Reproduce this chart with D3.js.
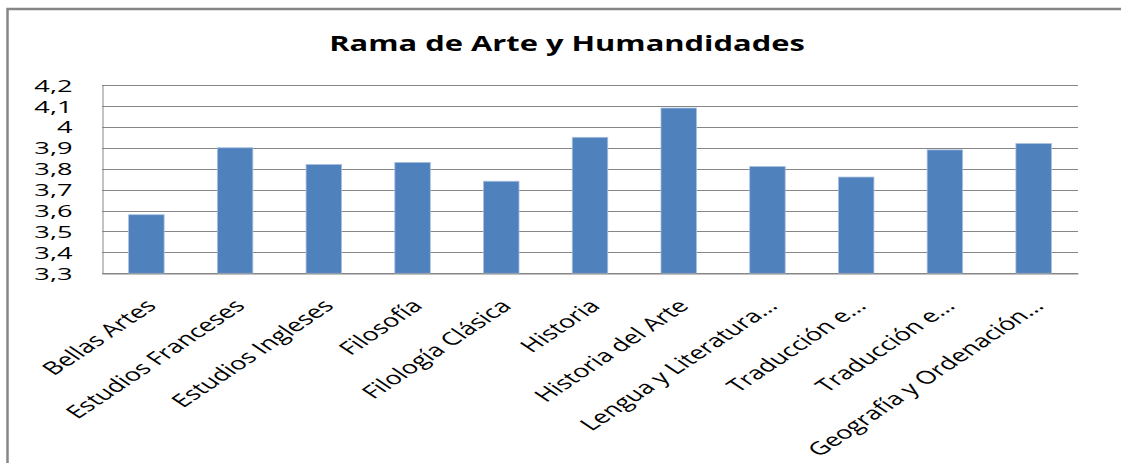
<!DOCTYPE html>
<html lang="es">
  <head>
    <meta charset="UTF-8">
    <title>Rama de Arte y Humandidades</title>
    <script src="https://d3js.org/d3.v7.min.js"></script>
    <style>
      body { margin: 0; background: #fff; }
      text { font-family: "Open Sans", sans-serif; fill: #000; }
    </style>
  </head>
  <body>
    <script>
      const categories = ["Bellas Artes", "Estudios Franceses", "Estudios Ingleses", "Filosofía",
                          "Filología Clásica", "Historia", "Historia del Arte", "Lengua y Literatura...",
                          "Traducción e...", "Traducción e...", "Geografía y Ordenación..."];
      const values = [3.58, 3.90, 3.82, 3.83, 3.74, 3.95, 4.09, 3.81, 3.76, 3.89, 3.92];
      const yTicks = [3.3, 3.4, 3.5, 3.6, 3.7, 3.8, 3.9, 4.0, 4.1, 4.2];

      const w = 1121;
      const h = 463;
      const plotL = 102, plotR = 1078, plotT = 85, plotB = 273.3;
      const sx = 1.5; // the picture is stretched horizontally

      const svg = d3.select("body")
        .append("svg")
        .attr("width", w)
        .attr("height", h);

      // outer frame (only top and left edges visible)
      svg.append("path")
        .attr("d", `M7.5,${h + 5} L7.5,9 L${w + 5},9`)
        .attr("fill", "none")
        .attr("stroke", "#868686")
        .attr("stroke-width", 2.5);

      svg.append("text")
        .attr("transform", `translate(567,51) scale(1.47,1)`)
        .attr("text-anchor", "middle")
        .style("font-size", "21px")
        .style("font-weight", "bold")
        .text("Rama de Arte y Humandidades");

      const x = d3.scaleBand()
        .domain(d3.range(categories.length))
        .range([plotL, plotR])
        .paddingInner(0.6)
        .paddingOuter(0.3);

      const y = d3.scaleLinear()
        .domain([3.3, 4.2])
        .range([plotB, plotT]);

      // gridlines
      svg.append("g")
        .selectAll("line")
        .data(yTicks)
        .enter()
        .append("line")
        .attr("x1", plotL)
        .attr("x2", plotR)
        .attr("y1", d => Math.round(y(d)) + 0.5)
        .attr("y2", d => Math.round(y(d)) + 0.5)
        .attr("stroke", "#868686")
        .attr("stroke-width", 1);

      // y axis line + labels
      const fmt = d => d3.format(".1f")(d).replace(".0", "").replace(".", ",");
      const yAxis = d3.axisLeft(y)
        .tickValues(yTicks)
        .tickSize(0)
        .tickPadding(0)
        .tickFormat(fmt);

      const yg = svg.append("g")
        .attr("transform", `translate(${plotL + 0.5},0)`)
        .call(yAxis);
      yg.select(".domain").attr("stroke", "#868686");
      yg.selectAll("text")
        .attr("x", 0)
        .attr("transform", `translate(-30,0) scale(1.6,1)`)
        .style("font-size", "17px")
        .attr("dy", "0.36em");

      svg.append("g")
        .selectAll("rect")
        .data(values)
        .enter()
        .append("rect")
        .attr("x", (d, i) => x(i))
        .attr("y", d => y(d))
        .attr("width", x.bandwidth())
        .attr("height", d => plotB - y(d))
        .attr("fill", "#4F81BD")
        .attr("stroke", "#A9C0DE")
        .attr("stroke-width", 0.8);

      // x axis
      const xAxis = d3.axisBottom(x)
        .tickSize(0)
        .tickFormat(i => categories[i]);
      const xg = svg.append("g")
        .attr("transform", `translate(0,${Math.round(plotB) + 0.5})`)
        .call(xAxis);
      xg.select(".domain").attr("stroke", "#868686");
      xg.selectAll("text")
        .attr("y", 0)
        .attr("x", 0)
        .attr("dy", "0.75em")
        .attr("text-anchor", "end")
        .attr("transform", `translate(-3,24) scale(${sx},1) rotate(-45)`)
        .style("font-size", "18px");
    </script>
  </body>
</html>
